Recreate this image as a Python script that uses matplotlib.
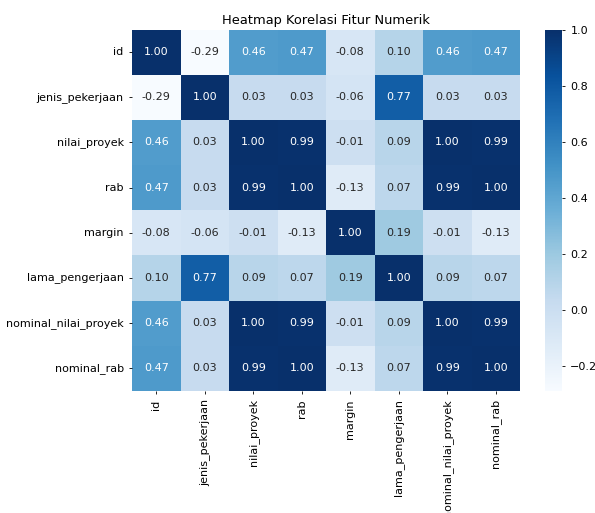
import numpy as np
import matplotlib
matplotlib.use("Agg")
import matplotlib.pyplot as plt
import seaborn as sns

features = ["id", "jenis_pekerjaan", "nilai_proyek", "rab", "margin",
            "lama_pengerjaan", "nominal_nilai_proyek", "nominal_rab"]

row_id = [1.00, -0.29, 0.46, 0.47, -0.08, 0.10, 0.46, 0.47]
row_jenis = [-0.29, 1.00, 0.03, 0.03, -0.06, 0.77, 0.03, 0.03]
row_nilai = [0.46, 0.03, 1.00, 0.99, -0.01, 0.09, 1.00, 0.99]
row_rab = [0.47, 0.03, 0.99, 1.00, -0.13, 0.07, 0.99, 1.00]
row_margin = [-0.08, -0.06, -0.01, -0.13, 1.00, 0.19, -0.01, -0.13]
row_lama = [0.10, 0.77, 0.09, 0.07, 0.19, 1.00, 0.09, 0.07]
row_nom_nilai = [0.46, 0.03, 1.00, 0.99, -0.01, 0.09, 1.00, 0.99]
row_nom_rab = [0.47, 0.03, 0.99, 1.00, -0.13, 0.07, 0.99, 1.00]

corr = np.array([row_id, row_jenis, row_nilai, row_rab, row_margin,
                 row_lama, row_nom_nilai, row_nom_rab])

fs = 8.0
fig = plt.figure(figsize=(5.95, 5.13), dpi=100)
W, H = 595, 513
ax = fig.add_axes([132 / W, (H - 391) / H, (520 - 132) / W, (391 - 29.5) / H])
cax = fig.add_axes([545 / W, (H - 391) / H, (562 - 545) / W, (391 - 30) / H])

sns.heatmap(corr, annot=True, fmt=".2f", cmap="Blues", ax=ax, cbar_ax=cax,
            xticklabels=features, yticklabels=features,
            annot_kws={"fontsize": fs})

ax.set_title("Heatmap Korelasi Fitur Numerik", fontsize=9.4, pad=4)
ax.tick_params(axis="both", labelsize=fs, length=2.5, width=0.6)
plt.setp(ax.get_xticklabels(), rotation=90)
plt.setp(ax.get_yticklabels(), rotation=0)
cax.tick_params(labelsize=fs, length=2.5, width=0.6)
cax.set_yticks([-0.2, 0.0, 0.2, 0.4, 0.6, 0.8, 1.0])

fig.savefig("out.png", dpi=100)
